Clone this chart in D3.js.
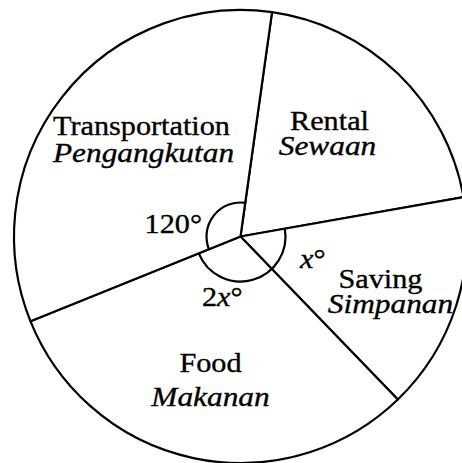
<!DOCTYPE html>
<html>
<head>
<meta charset="utf-8">
<script src="https://cdn.jsdelivr.net/npm/d3@7"></script>
<style>
  html, body { margin: 0; padding: 0; background: #fff; }
  svg { display: block; }
  text { font-family: "Liberation Serif", "Times New Roman", serif; fill: #000; stroke: #000; stroke-width: 0.35px; }
</style>
</head>
<body>
<svg id="chart" width="462" height="463"></svg>
<script>
// Monthly spending split, clockwise from the top
const categories = ["Rental", "Saving", "Food", "Transportation"];
const categoriesMalay = ["Sewaan", "Simpanan", "Makanan", "Pengangkutan"];
// Sector angles in degrees: Saving = x, Food = 2x, Transportation = 120
const xValue = 56;
const angles = [72, xValue, 2 * xValue, 120];
// Angle annotations: [number part, italic part, symbol]
const transportAngleLabel = ["120", "", "°"];
const savingAngleLabel = ["", "x", "°"];
const foodAngleLabel = ["2", "x", "°"];

const cx = 240.5, cy = 236.5, R = 226.5;
const startDeg = 8;
const rad = d => d * Math.PI / 180;

const svg = d3.select("#chart");
const g = svg.append("g").attr("transform", `translate(${cx},${cy})`);

const pie = d3.pie().value(d => d).sort(null)
  .startAngle(rad(startDeg)).endAngle(rad(startDeg + 360));
const arcs = pie(angles);
const sector = d3.arc().innerRadius(0).outerRadius(R);

g.selectAll("path.sector").data(arcs).join("path")
  .attr("class", "sector")
  .attr("d", sector)
  .attr("fill", "#fff")
  .attr("stroke", "#000")
  .attr("stroke-width", 2.2)
  .attr("stroke-linejoin", "round");

// Angle markers (d3 angles are clockwise from 12 o'clock)
function markerPath(r, a0, a1) {
  const p = d3.path();
  p.arc(0, 0, r, a0 - Math.PI / 2, a1 - Math.PI / 2);
  return p.toString();
}
const [rental, saving, food, transport] = arcs;
g.append("path")
  .attr("d", markerPath(34, transport.startAngle, transport.endAngle))
  .attr("fill", "none").attr("stroke", "#000").attr("stroke-width", 2.2);
g.append("path")
  .attr("d", markerPath(45, saving.startAngle, food.endAngle))
  .attr("fill", "none").attr("stroke", "#000").attr("stroke-width", 2.2);

// Category labels: English upright, Malay italic
const FS = 28, SX = 1.08, SXI = 1.12;
const labelLayout = {
  Rental:         { x: 89,  y1: -106.5, y2: -81.5, dx2: -2 },
  Saving:         { x: 140, y1: 51.5,   y2: 76.5,  dx2: 10 },
  Food:           { x: -30, y1: 135,    y2: 169,   dx2: 0 },
  Transportation: { x: -99, y1: -101.5, y2: -75,   dx2: 2 }
};

function scaledText(parent, x, y, sx, anchor) {
  return parent.append("g")
    .attr("transform", `translate(${x},${y}) scale(${sx},1)`)
    .append("text")
    .attr("text-anchor", anchor)
    .attr("font-size", FS);
}

categories.forEach((name, i) => {
  const L = labelLayout[name];
  scaledText(g, L.x, L.y1, SX, "middle").text(name);
  scaledText(g, L.x + L.dx2, L.y2, SXI, "middle")
    .attr("font-style", "italic").text(categoriesMalay[i]);
});

function angleText(parts, x, y, anchor) {
  const t = scaledText(g, x, y, SX, anchor);
  if (parts[0]) t.append("tspan").text(parts[0]);
  if (parts[1]) t.append("tspan").attr("font-style", "italic").text(parts[1]);
  t.append("tspan").text(parts[2]);
}
angleText(transportAngleLabel, -38.5, -3.5, "end");
angleText(savingAngleLabel, 59.5, 31.5, "start");
angleText(foodAngleLabel, -38.5, 69.5, "start");
</script>
</body>
</html>
